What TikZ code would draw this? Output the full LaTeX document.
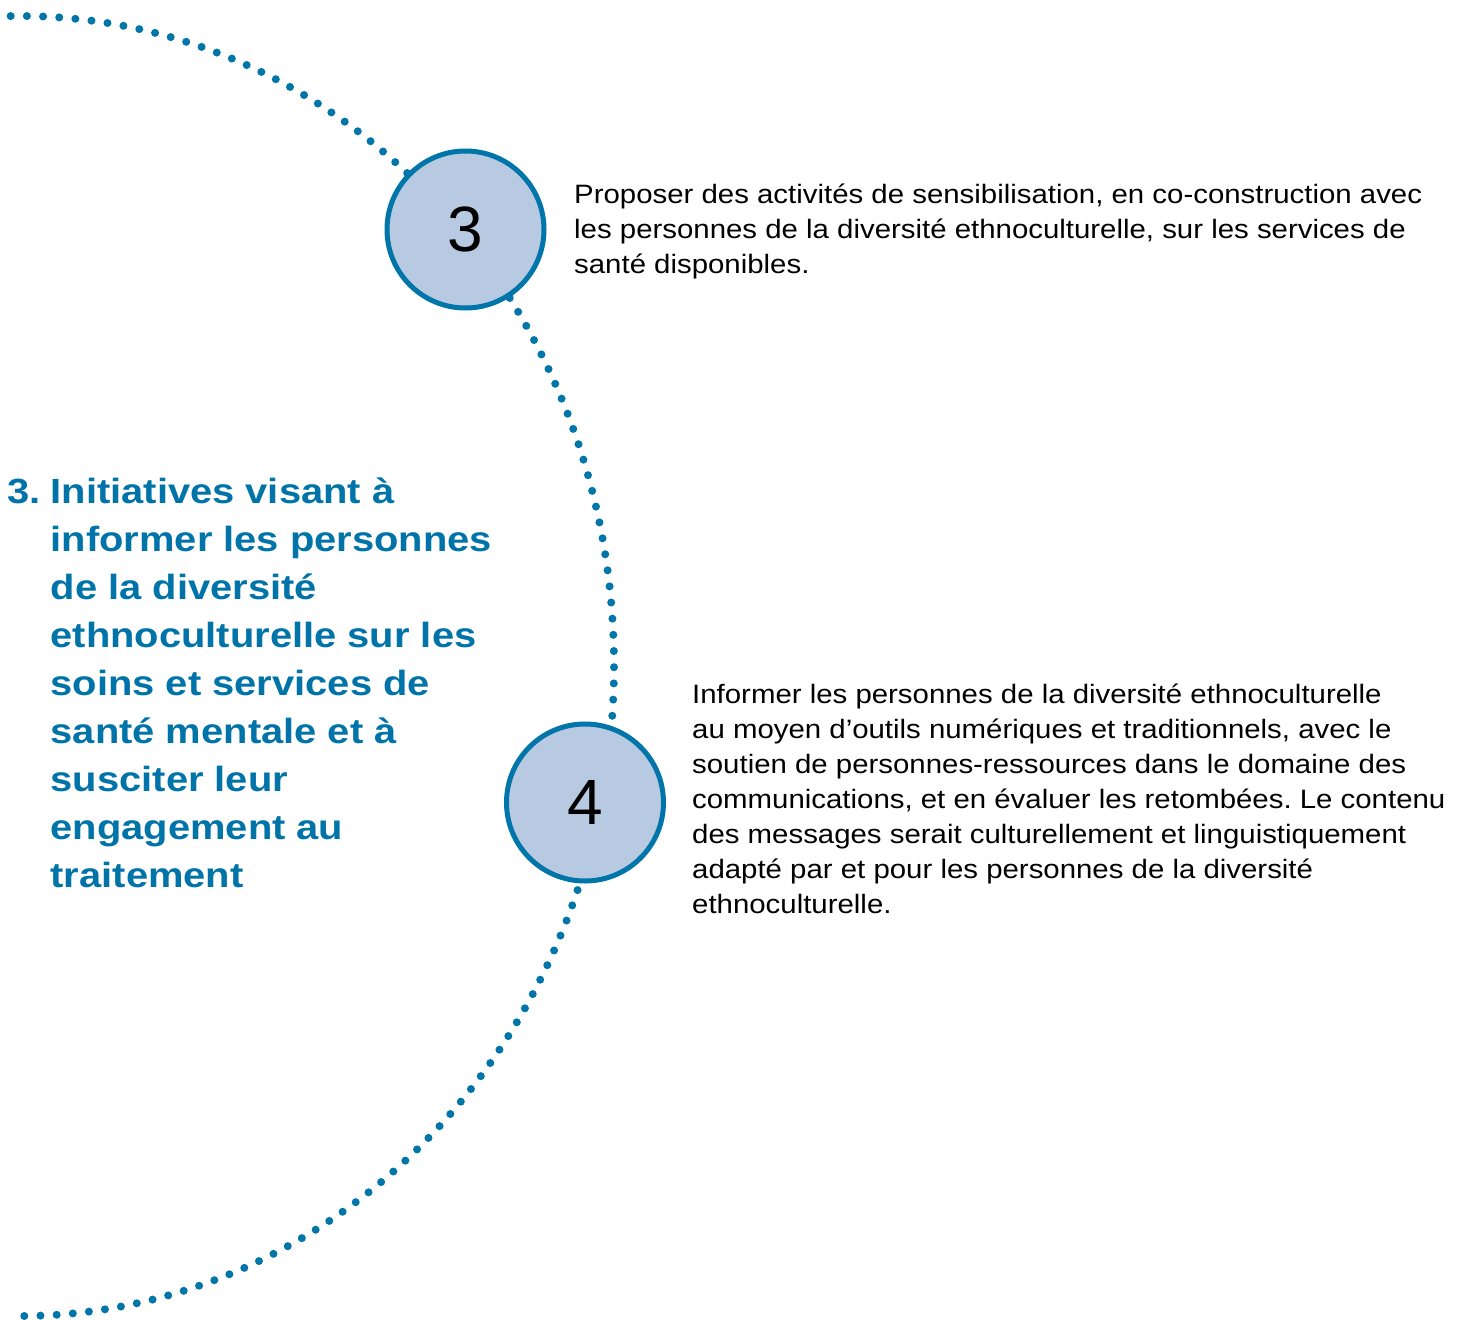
\documentclass[tikz,border=0pt]{standalone}
\usepackage{fontspec}
\setmainfont{Liberation Sans}
\newfontfamily\bodyfont[FakeStretch=1.105]{Liberation Sans}
\newfontfamily\titlefont[FakeStretch=1.14]{Liberation Sans}
\newfontfamily\numfont{Liberation Sans}
\definecolor{dblue}{HTML}{0075A9}
\definecolor{tblue}{HTML}{0073A8}
\definecolor{cfill}{HTML}{B8CAE2}
\frenchspacing
\tikzset{
  dotline/.style={draw=dblue, line width=8pt, line cap=round, dash pattern=on 0pt off 16.2pt},
  numcircle/.style={circle, draw=dblue, line width=5pt, fill=cfill, minimum size=157pt, inner sep=0pt,
    font=\numfont\fontsize{64}{64}\selectfont, text=black},
  bodyline/.style={anchor=base west, inner sep=0pt, font=\bodyfont\fontsize{26.6}{35}\selectfont, text=black},
  titleline/.style={anchor=base west, inner sep=0pt, font=\titlefont\bfseries\fontsize{35}{48}\selectfont, text=tblue}
}
\begin{document}
\begin{tikzpicture}[x=1pt,y=1pt]
\useasboundingbox (0,0) rectangle (1465,-1320);
% dotted half ellipse
\draw[dotline] (20,-665) ++(90.9:594pt and 649pt) arc[start angle=90.9, end angle=-90, x radius=594, y radius=650];
% circles
\node[numcircle] (c3) at (465.5,-229.5) {3};
\node[numcircle] (c4) at (585,-802.5) {4};
% text 3
\foreach \s [count=\i] in {
  {Proposer des activités de sensibilisation, en co-construction avec},
  {les personnes de la diversité ethnoculturelle, sur les services de},
  {santé disponibles.}}
  \node[bodyline] (pa\i) at (574,{-203.3-35*(\i-1)}) {\s};
% text 4
\foreach \s [count=\i] in {
  {Informer les personnes de la diversité ethnoculturelle},
  {au moyen d’outils numériques et traditionnels, avec le},
  {soutien de personnes-ressources dans le domaine des},
  {communications, et en évaluer les retombées. Le contenu},
  {des messages serait culturellement et linguistiquement},
  {adapté par et pour les personnes de la diversité},
  {ethnoculturelle.}}
  \node[bodyline] (pb\i) at (692,{-703.3-35*(\i-1)}) {\s};
% title
\node[titleline] (tnum) at (7,-503.3) {3.};
\foreach \s [count=\i] in {
  {Initiatives visant à},
  {informer les personnes},
  {de la diversité},
  {ethnoculturelle sur les},
  {soins et services de},
  {santé mentale et à},
  {susciter leur},
  {engagement au},
  {traitement}}
  \node[titleline] (tt\i) at (50.5,{-503.3-48*(\i-1)}) {\s};
\end{tikzpicture}
\end{document}
